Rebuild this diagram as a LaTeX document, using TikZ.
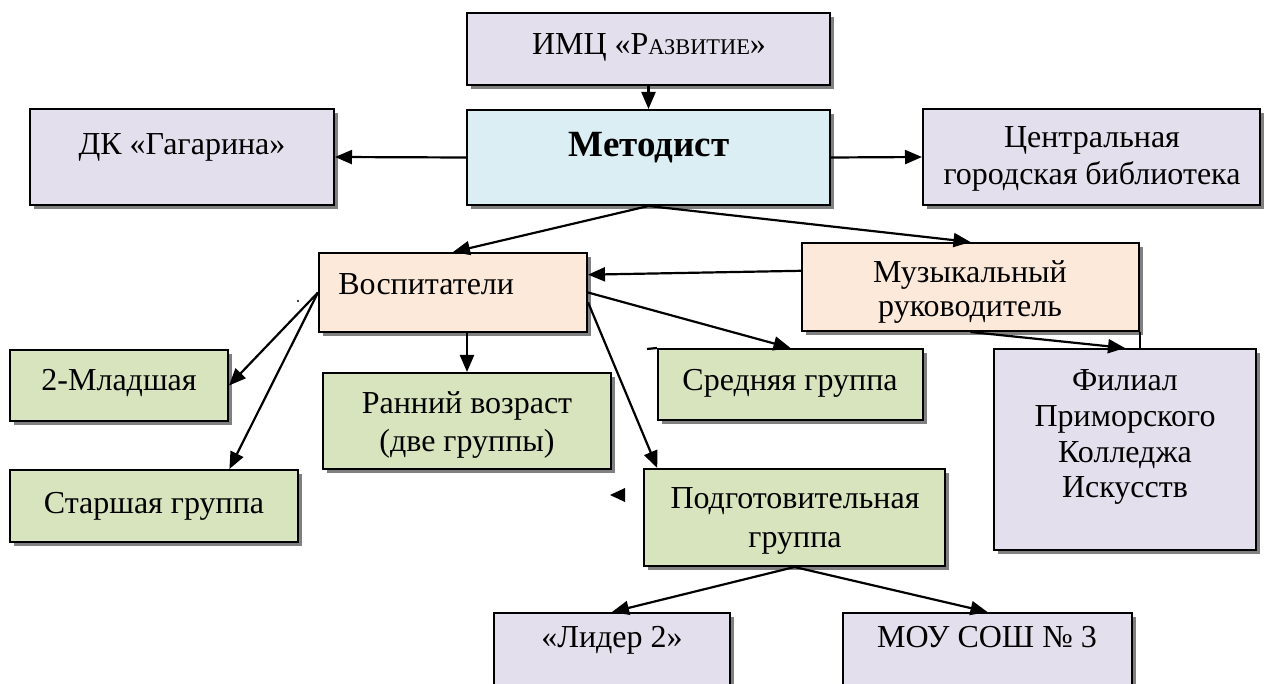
\documentclass[tikz,border=0pt]{standalone}
\usepackage{fontspec}
\setmainfont{Liberation Serif}
\usetikzlibrary{shadows,fit,calc,arrows.meta}
\definecolor{lav}{HTML}{E4DFEC}
\definecolor{lblue}{HTML}{DAEEF3}
\definecolor{peach}{HTML}{FDE9D9}
\definecolor{lgreen}{HTML}{D7E4BD}
\definecolor{shadowgray}{HTML}{808080}
\newcommand\stacklines[2]{{\fontsize{16}{#1}\selectfont\begin{tabular}[t]{@{}c@{}}#2\end{tabular}}}
\begin{document}
\begin{tikzpicture}[x=0.5pt,y=-0.5pt,
  box/.style={draw=black, line width=1pt, inner sep=0pt,
    drop shadow={shadow xshift=2.2pt, shadow yshift=-2.2pt, fill=shadowgray, opacity=1}},
  txt/.style={anchor=base, inner sep=0pt, font=\fontsize{16}{18.5}\selectfont},
  arr/.style={line width=1.1pt, -{Triangle[length=8.5pt,width=7pt]}},
  ln/.style={line width=1.1pt}]
\useasboundingbox (0,0) rectangle (1264,684);

% boxes
\node[box, fill=lav,    fit={(467,13) (830,85)}]    (imc)  {};
\node[box, fill=lblue,  fit={(467,110) (830,205)}]  (met)  {};
\node[box, fill=lav,    fit={(30,109) (334,205)}]   (dk)   {};
\node[box, fill=lav,    fit={(923,109) (1260,205)}] (cen)  {};
\node[box, fill=peach,  fit={(319,253) (587,332)}]  (vosp) {};
\node[box, fill=peach,  fit={(802,243) (1139,331)}] (mus)  {};
\node[box, fill=lav,    fit={(994,349) (1256,550)}] (fil)  {};
\node[box, fill=lgreen, fit={(10,350) (228,421)}]   (mlad) {};
\node[box, fill=lgreen, fit={(10,470) (298,542)}]   (star) {};
\node[box, fill=lgreen, fit={(323,373) (611,469)}]  (ran)  {};
\node[box, fill=lgreen, fit={(658,349) (923,420)}]  (sred) {};
\node[box, fill=lgreen, fit={(644,469) (945,566)}]  (podg) {};
\node[box, fill=lav,    fit={(494,613) (730,700)}]  (lid)  {};
\node[box, fill=lav,    fit={(843,613) (1132,700)}] (mou)  {};

% texts
\node[txt] (imcT) at (649,55) {ИМЦ «Р{\fontsize{11.2}{12}\selectfont АЗВИТИЕ}»};
\node[txt, font=\bfseries\fontsize{18.5}{20}\selectfont] (metT) at (649,157) {Методист};
\node[txt] (dkT) at (182,155) {ДК «Гагарина»};
\node[txt] (cenT) at (1092,148) {\stacklines{18.5pt}{Центральная\\городская библиотека}};
\node[txt, anchor=base west] (vospT) at (338,295) {Воспитатели};
\node[txt] (musT) at (970,283) {\stacklines{17pt}{Музыкальный\\руководитель}};
\node[txt] (filT) at (1125,390) {\stacklines{18pt}{Филиал\\Приморского\\Колледжа\\Искусств}};
\node[txt] (mladT) at (119,390) {2-Младшая};
\node[txt] (starT) at (154,513) {Старшая группа};
\node[txt] (ranT) at (467,413) {\stacklines{19.5pt}{Ранний возраст\\(две группы)}};
\node[txt] (sredT) at (790,390) {Средняя группа};
\node[txt] (podgT) at (795,508) {\stacklines{19.5pt}{Подготовительная\\группа}};
\node[txt] (lidT) at (612,647) {«Лидер 2»};
\node[txt] (mouT) at (987,647) {МОУ СОШ № 3};

% connectors
\draw[arr] (imc.south) -- (met.north);
\draw[arr] (met.west) -- (dk.east);
\draw[arr] (met.east) -- (cen.west);
\draw[arr] (met.south) -- (vosp.north);
\draw[arr] (met.south) -- (mus.north);
\draw[arr] ($(mus.north west)!0.32!(mus.south west)$) -- ($(vosp.north east)!0.28!(vosp.south east)$);
\draw[arr] (vosp.east) -- (sred.north);
\draw[arr] ($(vosp.north east)!0.62!(vosp.south east)$) -- ($(podg.north west)!0.047!(podg.north east)$);
\draw[arr] (vosp.south -| ran.north) -- (ran.north);
\draw[arr] (vosp.west) -- (mlad.east);
\draw[arr] (vosp.west) -- ($(star.north west)!0.76!(star.north east)$);
\draw[arr] (mus.south) -- (fil.north);
\draw[ln] (mus.south east) -- (mus.south east |- fil.north);
\draw[arr] (podg.south) -- (lid.north);
\draw[arr] (podg.south) -- (mou.north);

% stray marks shown in the picture
\coordinate (sredext) at (647,349);
\draw[ln] (sredext) -- (sred.north west);
\coordinate (tri) at (610,495);
\fill (tri) -- ++(15,-7) -- ++(0,14) -- cycle;
\coordinate (dot) at (298,301);
\fill (dot) circle (1.2);
\end{tikzpicture}
\end{document}
